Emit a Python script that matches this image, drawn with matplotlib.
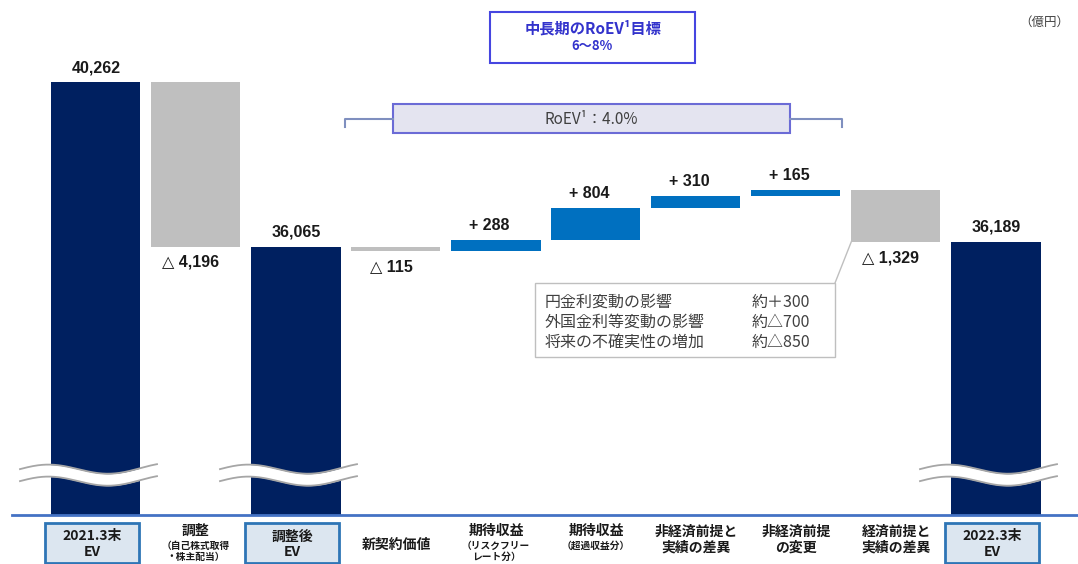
import numpy as np
import matplotlib
matplotlib.use("Agg")
import matplotlib.pyplot as plt
from matplotlib.patches import Rectangle
from matplotlib.transforms import blended_transform_factory

# EV bridge (億円)
kinds = ["total", "delta", "total", "delta", "delta", "delta", "delta", "delta", "delta", "total"]
values = [40262, -4196, 36065, -115, 288, 804, 310, 165, -1329, 36189]
main_labels = ["2021.3末\nEV", "調整", "調整後\nEV", "新契約価値", "期待収益", "期待収益",
               "非経済前提と\n実績の差異", "非経済前提\nの変更", "経済前提と\n実績の差異", "2022.3末\nEV"]
sub_labels = ["", "（自己株式取得\n・株主配当）", "", "", "（リスクフリー\nレート分）", "（超過収益分）",
              "", "", "", ""]
note_items = ["円金利変動の影響", "外国金利等変動の影響", "将来の不確実性の増加"]
note_values = ["約＋300", "約△700", "約△850"]

NAVY = "#002060"
BLUE = "#0070C0"
GRAY = "#BFBFBF"
TXT = "#404040"
JP = ["Noto Sans CJK JP", "DejaVu Sans"]
NUM = ["Liberation Sans", "DejaVu Sans"]

W, H = 1078, 564
fig = plt.figure(figsize=(W / 100, H / 100), dpi=100)
ax = fig.add_axes([0, 0, 1, 1])
ax.axis("off")

# broken axis: the totals start from a floor value, not from zero
Y1, Y0 = 42353, 27971
floor = 29220
ax.set_xlim(-0.96, 9.82)
ax.set_ylim(Y0, Y1)


def val(py):
    return Y1 - py / H * (Y1 - Y0)


def fpx(x, y):
    return x / W, 1 - y / H


bw = 0.89
level = 0
for i, (k, v) in enumerate(zip(kinds, values)):
    if k == "total":
        ax.bar(i, v - floor, bottom=floor, width=bw, color=NAVY, zorder=2)
        level = v
        ax.annotate(f"{v:,}", (i, v), xytext=(0, 5), textcoords="offset points",
                    ha="center", va="bottom", fontsize=11.5, fontweight="bold",
                    family=NUM, color="#1a1a1a")
    else:
        new = level + v
        color = BLUE if v > 0 else GRAY
        ax.bar(i, v, bottom=level, width=bw, color=color, zorder=2)
        if v > 0:
            ax.annotate(f"+ {v:,}", (i - 0.07, new), xytext=(0, 5), textcoords="offset points",
                        ha="center", va="bottom", fontsize=11.5, fontweight="bold",
                        family=NUM, color="#1a1a1a")
        else:
            ax.annotate(f"△ {-v:,}", (i - 0.05, new), xytext=(0, -6), textcoords="offset points",
                        ha="center", va="top", fontsize=11.5, fontweight="bold",
                        family=NUM, color="#1a1a1a")
        level = new

# wavy break marks across the total bars
bc, gap, amp = val(475), val(469) - val(481), val(470) - val(475)
for i, k in enumerate(kinds):
    if k != "total":
        continue
    wx = np.linspace(i - 0.76, i + 0.61, 200)
    t = (wx - wx[0]) / (wx[-1] - wx[0])
    wave = amp * np.cos(2 * np.pi * (t - 0.2) / 0.9) + amp * 0.4 * (t - 0.5)
    up = bc + gap / 2 + wave
    lo = bc - gap / 2 + wave
    ax.fill_between(wx, lo, up, color="white", zorder=3, lw=0)
    ax.plot(wx, up, color="#A6A6A6", lw=1.3, zorder=4)
    ax.plot(wx, lo, color="#A6A6A6", lw=1.3, zorder=4)

# base line
ax.plot([-0.84, 9.82], [floor, floor], color="#4472C4", lw=2, zorder=5)

# category labels
tr = blended_transform_factory(ax.transData, fig.transFigure)
for i, (k, lab, sub) in enumerate(zip(kinds, main_labels, sub_labels)):
    if k == "total":
        ax.add_patch(Rectangle((i - 0.04 - 0.47, 1 - 563 / H), 0.94, 40 / H, transform=tr,
                               facecolor="#DCE6F0", edgecolor="#2E75B6", lw=2, zorder=5,
                               clip_on=False))
        ax.text(i - 0.04, 1 - 544 / H, lab, transform=tr, ha="center", va="center",
                fontsize=10, fontweight="bold", family=JP, color="#1a1a1a",
                linespacing=1.1, zorder=6)
    elif sub:
        ax.text(i, 1 - 531 / H, lab, transform=tr, ha="center", va="center",
                fontsize=10, fontweight="bold", family=JP, color="#1a1a1a")
        ax.text(i, 1 - 541 / H, sub, transform=tr, ha="center", va="top",
                fontsize=7, fontweight="bold", family=JP, color="#1a1a1a", linespacing=1.15)
    elif "\n" in lab:
        ax.text(i, 1 - 540 / H, lab, transform=tr, ha="center", va="center",
                fontsize=10, fontweight="bold", family=JP, color="#1a1a1a", linespacing=1.15)
    else:
        ax.text(i, 1 - 545 / H, lab, transform=tr, ha="center", va="center",
                fontsize=10, fontweight="bold", family=JP, color="#1a1a1a")

# target box
fig.patches.append(Rectangle(fpx(490, 63), 205 / W, 51 / H, transform=fig.transFigure,
                             facecolor="white", edgecolor="#4646E0", lw=1.5))
fig.text(*fpx(593, 28), "中長期のRoEV¹目標", ha="center", va="center", fontsize=11,
         fontweight="bold", family=JP, color="#3333CC")
fig.text(*fpx(592, 46), "6〜8%", ha="center", va="center", fontsize=9.5,
         fontweight="bold", family=JP, color="#3333CC")
fig.text(*fpx(1044, 22), "（億円）", ha="center", va="center", fontsize=9,
         family=JP, color=TXT)

# RoEV bracket
bl = "#7F8FBF"
fig.add_artist(plt.Line2D([345 / W, 345 / W, 393 / W], [1 - 127 / H, 1 - 119 / H, 1 - 119 / H],
                          transform=fig.transFigure, color=bl, lw=1.5))
fig.add_artist(plt.Line2D([790 / W, 842 / W, 842 / W], [1 - 119 / H, 1 - 119 / H, 1 - 127 / H],
                          transform=fig.transFigure, color=bl, lw=1.5))
fig.patches.append(Rectangle(fpx(393, 133), 397 / W, 29 / H, transform=fig.transFigure,
                             facecolor="#E4E4F0", edgecolor="#6B6BD6", lw=1.5))
fig.text(*fpx(591, 119), "RoEV¹：4.0%", ha="center", va="center", fontsize=11,
         family=JP, color=TXT)

# breakdown note for the economic assumption variance
fig.add_artist(plt.Line2D([835 / W, 852 / W], [1 - 283 / H, 1 - 240 / H],
                          transform=fig.transFigure, color=GRAY, lw=1))
fig.patches.append(Rectangle(fpx(535, 357), 300 / W, 74 / H, transform=fig.transFigure,
                             facecolor="white", edgecolor=GRAY, lw=1))
for j, (item, nv) in enumerate(zip(note_items, note_values)):
    y = 302 + 20 * j
    fig.text(*fpx(545, y), item, ha="left", va="center", fontsize=11.5, family=JP, color=TXT)
    fig.text(*fpx(752, y), nv, ha="left", va="center", fontsize=11.5, family=JP, color=TXT)

fig.savefig("out.png", dpi=100)
